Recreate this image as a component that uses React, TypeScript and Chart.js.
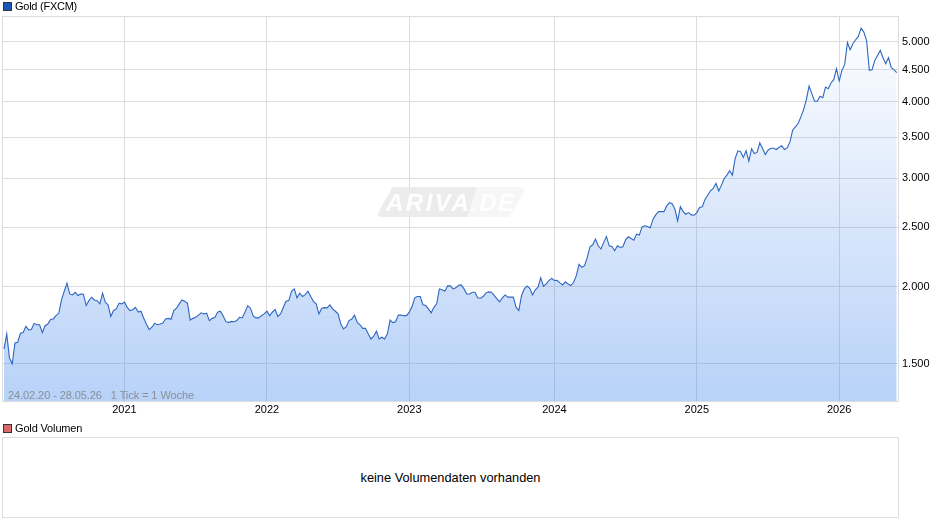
import React, { useEffect, useRef } from "react";
import { Chart, registerables } from "chart.js";

Chart.register(...registerables);

const closes2020 = [
  1585, 1678, 1533, 1500, 1622, 1626, 1682, 1686, 1726, 1703,
  1705, 1745, 1736, 1736, 1686, 1730, 1741, 1770, 1774, 1796,
  1812, 1905, 1968, 2028, 1948, 1941, 1960, 1936, 1948, 1946,
  1865, 1900, 1924, 1905, 1900, 1877, 1953, 1888, 1870, 1790,
  1831, 1842, 1881, 1877,
];
const closes2021 = [
  1890, 1853, 1831, 1836, 1853, 1820, 1826, 1781, 1741, 1705, 1720, 1745, 1736, 1741, 1747, 1774,
  1778, 1772, 1831, 1847, 1877, 1905, 1895, 1881, 1767, 1778,
  1785, 1800, 1815, 1808, 1812, 1763, 1778, 1783, 1820, 1826,
  1796, 1758, 1750, 1758, 1756, 1763, 1785, 1781, 1820, 1865, 1847, 1794,
  1781, 1781,
  1796, 1808,
];
const closes2022 = [
  1826, 1796, 1820, 1838, 1790, 1808, 1853, 1895, 1900, 1968, 1985,
  1920, 1953, 1929, 1943, 1968, 1929, 1895, 1877, 1808, 1847,
  1851, 1849, 1870, 1842, 1826, 1808, 1741, 1709, 1724, 1763,
  1774, 1800, 1752, 1736, 1713, 1713, 1678, 1646, 1663, 1695,
  1646, 1657, 1646, 1678, 1767, 1750, 1756, 1800, 1800, 1796, 1796, 1820,
];
const closes2023 = [
  1858, 1920, 1929, 1929, 1870, 1865, 1842, 1815, 1853, 1877,
  1985, 1978, 1968, 2008, 2008, 1985, 1993, 2012, 2015, 1985,
  1948, 1948, 1960, 1960, 1920, 1917,
  1929, 1956, 1963, 1961, 1937, 1913, 1891, 1920, 1941,
  1925, 1925, 1925, 1854, 1831, 1937, 1985, 2007, 1990, 1941,
  1978, 1998, 2068,
];
const closes2024 = [
  2005, 2022, 2048, 2065, 2048, 2050, 2030,
  2015, 2038, 2022, 2010, 2035, 2086, 2176, 2152, 2165, 2233,
  2324, 2341, 2391, 2332, 2304, 2362, 2415, 2332, 2327, 2290,
  2332, 2318, 2324, 2385, 2412, 2397, 2382, 2436, 2427, 2503,
  2513, 2506, 2494, 2576, 2618, 2650, 2650, 2650, 2707, 2740,
  2730, 2673,
];
const closes2025 = [
  2560, 2700, 2650, 2624, 2640, 2618, 2615, 2640,
  2692, 2699, 2774, 2819, 2865, 2890, 2945, 2862, 2926, 3000,
  3037, 3087, 3037, 3232, 3326, 3314, 3244, 3326, 3200, 3351,
  3293, 3306, 3427, 3355, 3281, 3334, 3359, 3359, 3342, 3368,
  3389, 3342, 3363, 3439, 3592, 3637, 3683, 3776, 3880, 4028,
  4238, 4119, 4003, 4003, 4078, 4058, 4222, 4196, 4286, 4340,
];
const closes2026 = [
  4522, 4318, 4493, 4595, 4985, 4853, 4963, 5038, 5101, 5262,
  5184, 5024, 4493, 4505, 4664, 4752, 4841, 4711, 4606, 4711,
  4538, 4505, 4456,
];
const weeklyCloses = [
  ...closes2020, ...closes2021, ...closes2022, ...closes2023,
  ...closes2024, ...closes2025, ...closes2026,
];

const yearLabels = ["2021", "2022", "2023", "2024", "2025", "2026"];
const yearStartWeeks = [44, 96, 148, 201, 253, 305];
const priceTicks = [1500, 2000, 2500, 3000, 3500, 4000, 4500, 5000];

const GRID = "#dddddd";
const FONT = "'Liberation Sans', Arial, sans-serif";

const decor = {
  id: "decor",
  beforeDatasetsDraw(chart: any) {
    const { ctx, chartArea: a } = chart;
    ctx.save();
    ctx.strokeStyle = GRID;
    ctx.lineWidth = 1;
    ctx.strokeRect(a.left - 0.5, a.top + 0.5, a.right - a.left + 1, a.bottom - a.top);

    // watermark
    const para = (x0: number, x1: number, y0: number, y1: number, s: number, r: number) => {
      ctx.beginPath();
      ctx.moveTo(x0 + s + r, y0);
      ctx.lineTo(x1 - r, y0);
      ctx.quadraticCurveTo(x1, y0, x1 - 1, y0 + r);
      ctx.lineTo(x1 - s, y1 - r);
      ctx.quadraticCurveTo(x1 - s - 1, y1, x1 - s - r, y1);
      ctx.lineTo(x0 + r, y1);
      ctx.quadraticCurveTo(x0, y1, x0 + 1, y1 - r);
      ctx.lineTo(x0 + s, y0 + r);
      ctx.quadraticCurveTo(x0 + s + 1, y0, x0 + s + r, y0);
      ctx.closePath();
    };
    para(377, 525, 187, 217, 13, 5);
    ctx.fillStyle = "rgba(240,240,240,0.6)";
    ctx.fill();
    ctx.beginPath();
    ctx.moveTo(377, 217);
    ctx.lineTo(467, 217);
    ctx.lineTo(477, 187);
    ctx.lineTo(390, 187);
    ctx.closePath();
    ctx.save();
    ctx.clip();
    para(377, 525, 187, 217, 13, 5);
    ctx.fillStyle = "rgba(232,232,232,0.7)";
    ctx.fill();
    ctx.restore();
    ctx.font = `italic bold 24px ${FONT}`;
    ctx.textBaseline = "alphabetic";
    ctx.textAlign = "left";
    ctx.fillStyle = "rgba(255,255,255,0.95)";
    (ctx as any).letterSpacing = "2.5px";
    ctx.fillText("ARIVA", 386, 211);
    (ctx as any).letterSpacing = "1.5px";
    ctx.fillText(".DE", 471, 211);
    (ctx as any).letterSpacing = "0px";
    ctx.restore();
  },
};

export default function App() {
  const ref = useRef<HTMLCanvasElement>(null);

  useEffect(() => {
    const canvas = ref.current!;
    const chart = new Chart(canvas, {
      type: "line",
      data: {
        labels: weeklyCloses.map((_, i) => i),
        datasets: [
          {
            label: "Gold (FXCM)",
            data: weeklyCloses.map((y, x) => ({ x, y })),
            borderColor: "#2e66c2",
            borderWidth: 1.1,
            pointRadius: 0,
            tension: 0,
            fill: "start",
            backgroundColor: (c: any) => {
              const a = c.chart.chartArea;
              if (!a) return "rgba(60,130,235,0.2)";
              const g = c.chart.ctx.createLinearGradient(0, a.top, 0, a.bottom);
              g.addColorStop(0, "rgba(60,130,235,0)");
              g.addColorStop(1, "rgba(60,130,235,0.364)");
              return g;
            },
          },
        ],
      },
      options: {
        responsive: false,
        animation: false,
        events: [],
        parsing: false as any,
        normalized: true,
        layout: { padding: { left: 3, top: 16, right: 0, bottom: 0 } },
        plugins: { legend: { display: false }, title: { display: false }, tooltip: { enabled: false } },
        scales: {
          x: {
            type: "linear",
            min: -0.365,
            max: 326.47,
            afterBuildTicks: (s: any) => {
              s.ticks = yearStartWeeks.map((value) => ({ value }));
            },
            afterFit: (s: any) => {
              s.height = 29;
            },
            grid: { color: GRID, lineWidth: 1, tickLength: 2, drawTicks: true, tickColor: GRID },
            border: { display: false },
            ticks: {
              maxRotation: 0,
              autoSkip: false,
              padding: 0,
              color: "#000000",
              font: { family: FONT, size: 11 },
              callback: (v: any) => yearLabels[yearStartWeeks.indexOf(v)] ?? "",
            },
          },
          y: {
            type: "logarithmic",
            position: "right",
            min: 1305.5,
            max: 5506,
            afterBuildTicks: (s: any) => {
              s.ticks = priceTicks.map((value) => ({ value }));
            },
            afterFit: (s: any) => {
              s.width = 42;
            },
            grid: { color: GRID, lineWidth: 1, drawTicks: false },
            border: { display: false },
            ticks: {
              padding: 4,
              autoSkip: false,
              color: "#000000",
              font: { family: FONT, size: 11 },
              callback: (v: any) => Number(v).toLocaleString("de-DE"),
            },
          },
        },
      } as any,
      plugins: [decor],
    });
    return () => chart.destroy();
  }, []);

  const label: React.CSSProperties = {
    position: "absolute",
    font: `11px ${FONT}`,
    color: "#000",
    whiteSpace: "pre",
    lineHeight: "12px",
    letterSpacing: "-0.25px",
  };
  const swatch = (top: number, bg: string): React.CSSProperties => ({
    position: "absolute",
    left: 3,
    top,
    width: 7,
    height: 7,
    background: bg,
    border: "1px solid #333",
  });

  return (
    <div style={{ position: "absolute", left: 0, top: 0, width: 940, height: 526, overflow: "hidden", background: "#fff" }}>
      <canvas ref={ref} width={940} height={430} style={{ position: "absolute", left: 0, top: 0, display: "block" }} />
      <div style={swatch(2, "#1a56b8")} />
      <div style={{ ...label, left: 15, top: 0 }}>Gold (FXCM)</div>
      <div style={{ ...label, left: 8, top: 389, color: "rgba(120,120,120,0.75)", letterSpacing: "-0.08px" }}>24.02.20 - 28.05.26   1 Tick = 1 Woche</div>
      <div style={swatch(424, "#d76b6b")} />
      <div style={{ ...label, left: 15, top: 422, letterSpacing: "-0.15px" }}>Gold Volumen</div>
      <div
        style={{
          position: "absolute",
          left: 2,
          top: 437,
          width: 895,
          height: 79,
          border: `1px solid ${GRID}`,
          display: "flex",
          alignItems: "center",
          justifyContent: "center",
          font: `12.8px ${FONT}`,
          color: "#000",
        }}
      >
        keine Volumendaten vorhanden
      </div>
    </div>
  );
}
